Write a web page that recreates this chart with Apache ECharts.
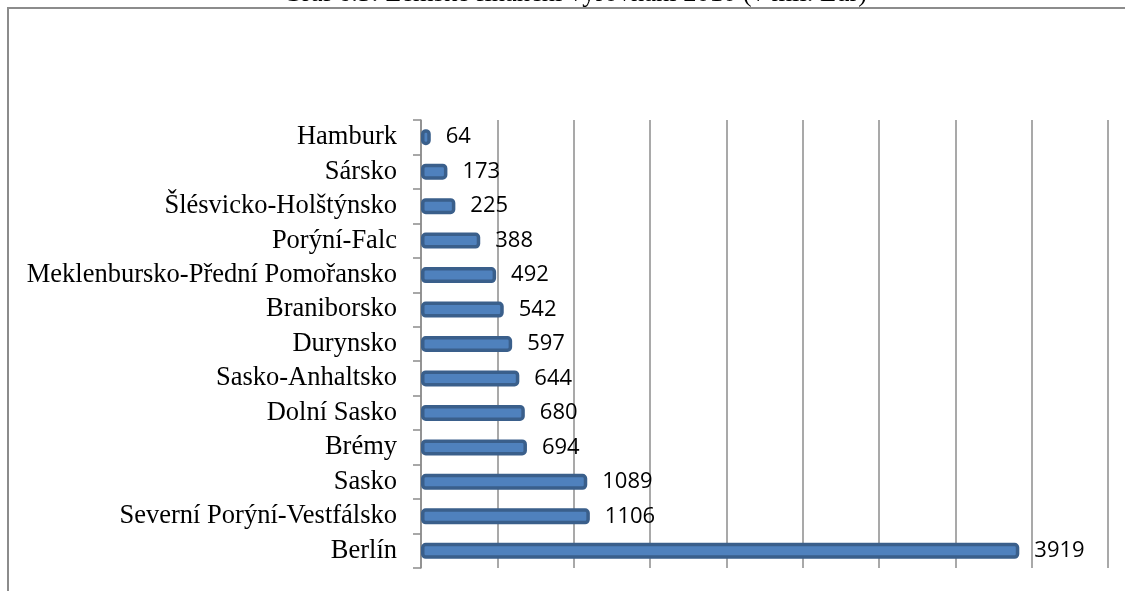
<!DOCTYPE html>
<html>
<head>
<meta charset="utf-8">
<script src="https://cdn.jsdelivr.net/npm/echarts@6/dist/echarts.min.js"></script>
<style>html,body{margin:0;padding:0;background:#fff}#c{width:1125px;height:591px}</style>
</head>
<body>
<div id="c"></div>
<script>
const titleText = 'Graf 6.3: Zemské finanční vyrovnání 2010 (v mil. Eur)';
const categories = ['Hamburk','Sársko','Šlésvicko-Holštýnsko','Porýní-Falc','Meklenbursko-Přední Pomořansko','Braniborsko','Durynsko','Sasko-Anhaltsko','Dolní Sasko','Brémy','Sasko','Severní Porýní-Vestfálsko','Berlín'];
const values = [64,173,225,388,492,542,597,644,680,694,1089,1106,3919];
const xMin = 0, xMax = 4500, xStep = 500;

const chart = echarts.init(document.getElementById('c'));
chart.setOption({
  animation: false,
  backgroundColor: '#fff',
  graphic: [
    {type:'polyline', shape:{points:[[8,591],[8,8],[1125,8]]}, style:{stroke:'#8c8c8c', lineWidth:2, fill:null}},
    {type:'text', x:575, y:8, style:{text:titleText, font:'26.5px "Liberation Serif"', fill:'#000', align:'center', verticalAlign:'bottom'}}
  ],
  grid: {left:421, right:17, top:120, bottom:23, containLabel:false},
  xAxis: {
    type:'value', min:xMin, max:xMax, interval:xStep,
    axisLine:{show:false},
    axisTick:{show:false},
    axisLabel:{show:false},
    splitLine:{show:true, lineStyle:{color:'#8c8c8c', width:1.5}}
  },
  yAxis: {
    type:'category', data:categories, inverse:true,
    axisLine:{show:true, lineStyle:{color:'#8c8c8c', width:1.5}},
    axisTick:{show:true, length:8, interval:0, lineStyle:{color:'#8c8c8c', width:1.5}},
    axisLabel:{interval:0, color:'#000', fontFamily:'Liberation Serif', fontSize:26.5, margin:24}
  },
  series: [{
    type:'bar', data:values, barWidth:16,
    itemStyle:{color:'#4F81BD', borderColor:'#3A5F8B', borderWidth:3.5, borderRadius:3},
    label:{show:true, position:'right', distance:15, color:'#000', fontFamily:'Open Sans', fontSize:22}
  }]
});
</script>
</body>
</html>
